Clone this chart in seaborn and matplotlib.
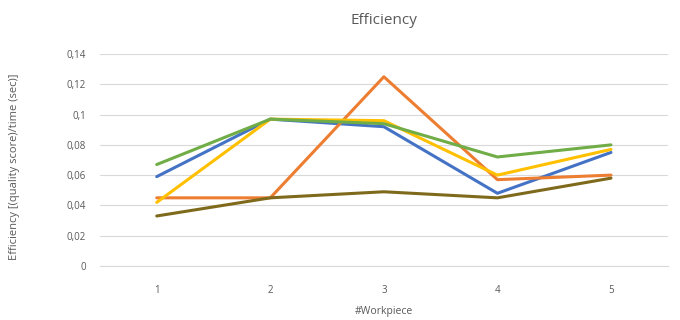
import pandas as pd
import numpy as np
import matplotlib
matplotlib.use('Agg')
import matplotlib.pyplot as plt
import seaborn as sns
from matplotlib.ticker import FuncFormatter

# data
workpiece = [1, 2, 3, 4, 5]
series_blue = [0.059, 0.097, 0.092, 0.048, 0.075]
series_orange = [0.045, 0.045, 0.125, 0.057, 0.060]
series_yellow = [0.042, 0.097, 0.096, 0.060, 0.077]
series_green = [0.067, 0.097, 0.094, 0.072, 0.080]
series_dark = [0.033, 0.045, 0.049, 0.045, 0.058]
series_names = ['S1', 'S2', 'S3', 'S4', 'S5']
colors = ['#4472C4', '#ED7D31', '#FFC000', '#70AD47', '#7F6A1C']

rows = []
for name, vals in zip(series_names, [series_blue, series_orange, series_yellow,
                                     series_green, series_dark]):
    for x, v in zip(workpiece, vals):
        rows.append({'Workpiece': x, 'Efficiency': v, 'series': name})
df = pd.DataFrame(rows)

sns.set_style('white')
plt.rcParams['font.family'] = ['Open Sans', 'DejaVu Sans']

fig = plt.figure(figsize=(6.8, 3.2), dpi=100)
ax = fig.add_axes([0.147, 0.169, 0.835, 0.662])

sns.lineplot(data=df, x='Workpiece', y='Efficiency', hue='series',
             palette=colors, linewidth=2.2, legend=False, ax=ax, sort=False)

ax.set_xlim(0.5, 5.5)
ax.set_ylim(0, 0.14)
ax.set_xticks(workpiece)
ax.set_yticks(np.arange(0, 0.141, 0.02))

def fmt(v, pos):
    s = f'{v:.2f}'.rstrip('0').rstrip('.')
    return s.replace('.', ',')
ax.yaxis.set_major_formatter(FuncFormatter(fmt))

ax.grid(axis='y', color='#D9D9D9', linewidth=0.8)
ax.set_axisbelow(True)
for side in ['top', 'right', 'left']:
    ax.spines[side].set_visible(False)
ax.spines['bottom'].set_color('#D9D9D9')
ax.tick_params(axis='y', length=0, labelsize=7, colors='#595959', pad=10)
ax.tick_params(axis='x', length=0, labelsize=7, colors='#595959', pad=14)

ax.set_title('Efficiency', fontsize=11, color='#595959', pad=22)
ax.set_xlabel('#Workpiece', fontsize=7.5, color='#595959', labelpad=7)
ax.set_ylabel('Efficiency [(quality score)/time (sec)]', fontsize=8,
              color='#595959')
ax.yaxis.set_label_coords(-0.14, 0.47)

fig.savefig('out.png', dpi=100)
